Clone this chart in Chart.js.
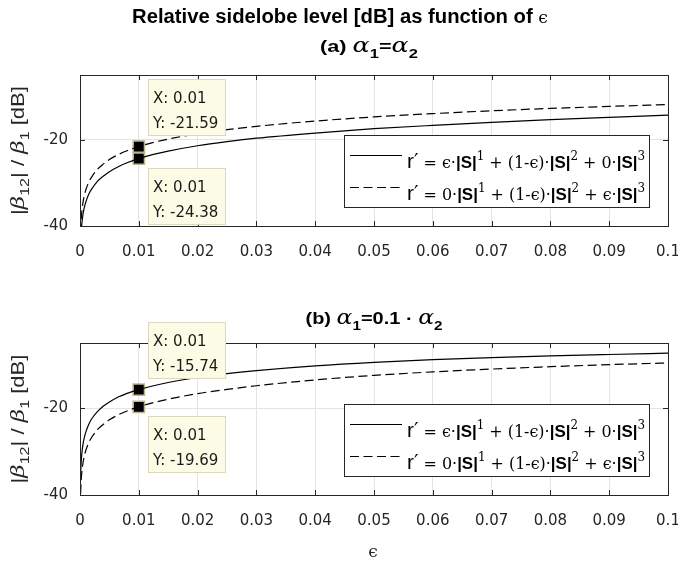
<!DOCTYPE html>
<html><head><meta charset="utf-8">
<script src="https://cdn.jsdelivr.net/npm/chart.js@4/dist/chart.umd.min.js"></script>
<style>
html,body{margin:0;padding:0;background:#fff;}
#wrap{position:relative;width:678px;height:566px;overflow:hidden;}
canvas{position:absolute;left:0;top:0;}
</style></head><body>
<div id="wrap"><canvas id="ca" width="678" height="566"></canvas><canvas id="cb" width="678" height="566"></canvas></div>
<script>
// ---------- data ----------
const xTicks = [0, 0.01, 0.02, 0.03, 0.04, 0.05, 0.06, 0.07, 0.08, 0.09, 0.1];
const xTickLabels = ['0', '0.01', '0.02', '0.03', '0.04', '0.05', '0.06', '0.07', '0.08', '0.09', '0.1'];
const yTicks = [-40, -20];
const yTickLabels = ['-40', '-20'];

const eps = [0.0001, 0.0002, 0.0003, 0.0005, 0.0007, 0.001, 0.0015, 0.002, 0.003, 0.004, 0.005, 0.0065, 0.008,
             0.01, 0.0125, 0.015, 0.02, 0.025, 0.03, 0.04, 0.05, 0.06, 0.07, 0.08, 0.09, 0.1];

// (a) alpha1 = alpha2
const solidA  = [-44.4, -41.4, -39.6, -37.4, -35.9, -34.4, -32.6, -31.4, -29.6, -28.4, -27.4, -26.25, -25.35,
                 -24.38, -23.4, -22.63, -21.4, -20.45, -19.65, -18.45, -17.45, -16.68, -16.0, -15.35, -14.8, -14.3];
const dashedA = [-41.6, -38.6, -36.8, -34.6, -33.1, -31.6, -29.8, -28.6, -26.8, -25.6, -24.6, -23.45, -22.55,
                 -21.59, -20.63, -19.85, -18.62, -17.67, -16.9, -15.68, -14.72, -13.95, -13.3, -12.75, -12.28, -11.85];
// (b) alpha1 = 0.1 * alpha2
const solidB  = [-35.4, -32.4, -30.6, -28.4, -26.95, -25.45, -23.7, -22.45, -20.75, -19.5, -18.6, -17.45, -16.6,
                 -15.74, -14.85, -14.1, -12.95, -12.05, -11.35, -10.25, -9.45, -8.85, -8.38, -7.98, -7.65, -7.35];
const dashedB = [-39.7, -36.7, -34.9, -32.7, -31.2, -29.7, -27.9, -26.7, -24.9, -23.7, -22.7, -21.55, -20.65,
                 -19.69, -18.73, -17.95, -16.65, -15.7, -14.85, -13.5, -12.45, -11.65, -11.0, -10.45, -9.98, -9.6];

const tipXA = [0.01, 0.01];
const tipYA = [-21.59, -24.38];
const tipXB = [0.01, 0.01];
const tipYB = [-15.74, -19.69];

const legendLabels = ['r′ = ϵ·|S|^1 + (1-ϵ)·|S|^2 + 0·|S|^3',
                      'r′ = 0·|S|^1 + (1-ϵ)·|S|^2 + ϵ·|S|^3'];

// ---------- helpers ----------
function runsWidth(ctx, runs) {
  let w = 0;
  for (const r of runs) { ctx.font = r.f; w += ctx.measureText(r.t).width; }
  return w;
}
function drawRuns(ctx, runs, x, y, opt) {
  opt = opt || {};
  const w = runsWidth(ctx, runs);
  const sx = opt.fit ? opt.fit / w : 1;
  const total = w * sx;
  const start = opt.align === 'center' ? x - total / 2 : (opt.align === 'right' ? x - total : x);
  ctx.save();
  ctx.translate(start, y);
  ctx.scale(sx, 1);
  ctx.textBaseline = 'alphabetic';
  ctx.textAlign = 'left';
  let cx = 0;
  for (const r of runs) {
    ctx.font = r.f;
    ctx.fillStyle = r.c || opt.color || '#000';
    ctx.fillText(r.t, cx, r.dy || 0);
    cx += ctx.measureText(r.t).width;
  }
  ctx.restore();
}
const SERIF = '"DejaVu Serif", "Liberation Serif", serif';
const SANS = '"Liberation Sans", Arial, sans-serif';
function legendRuns(label) {
  const parts = label.split(/(r′|\|S\||\^\d)/).filter(p => p.length);
  const runs = [];
  for (const p of parts) {
    if (p === 'r′') { runs.push({t: 'r', f: '21px ' + SANS}); runs.push({t: '′', f: '20px "DejaVu Sans", sans-serif', dy: -1}); }
    else if (p === '|S|') runs.push({t: '|S|', f: 'bold 17px ' + SANS});
    else if (p[0] === '^') runs.push({t: p.slice(1), f: '12px ' + SERIF, dy: -8});
    else runs.push({t: p, f: '16px ' + SERIF});
  }
  return runs;
}
function yLabelRuns() {
  const f = '18px ' + SANS, g = 'italic 19px ' + SERIF, s = '13px ' + SANS;
  return [{t: '|', f: f}, {t: 'β', f: g}, {t: '12', f: s, dy: 5}, {t: '| / ', f: f},
          {t: 'β', f: g}, {t: '1', f: s, dy: 5}, {t: ' [dB]', f: f}];
}

const decoPlugin = {
  id: 'deco',
  afterDatasetsDraw(chart, args, o) {
    const ctx = chart.ctx, a = chart.chartArea, xs = chart.scales.x, ys = chart.scales.y;
    ctx.save();
    // inward tick marks and box
    ctx.strokeStyle = '#262626';
    ctx.lineWidth = 1;
    ctx.setLineDash([]);
    ctx.beginPath();
    xs.ticks.forEach(t => {
      const p = Math.round(xs.getPixelForValue(t.value)) + 0.5;
      ctx.moveTo(p, a.bottom); ctx.lineTo(p, a.bottom - 5);
      ctx.moveTo(p, a.top); ctx.lineTo(p, a.top + 5);
    });
    ys.ticks.forEach(t => {
      const p = Math.round(ys.getPixelForValue(t.value)) + 0.5;
      ctx.moveTo(a.left, p); ctx.lineTo(a.left + 5, p);
      ctx.moveTo(a.right, p); ctx.lineTo(a.right - 5, p);
    });
    ctx.stroke();
    ctx.strokeRect(Math.round(a.left) + 0.5, Math.round(a.top) + 0.5,
                   Math.round(a.right - a.left), Math.round(a.bottom - a.top));
    // legend
    const lw = 305, lh = 72;
    const x1 = Math.round(a.right - 19 - lw), y1 = Math.round(a.bottom - 19 - lh);
    ctx.fillStyle = '#fff';
    ctx.fillRect(x1, y1, lw, lh);
    ctx.strokeStyle = '#262626';
    ctx.strokeRect(x1 + 0.5, y1 + 0.5, lw, lh);
    const rows = [{dash: [], ly: y1 + 20, by: y1 + 33}, {dash: [9, 4.5], ly: y1 + 52, by: y1 + 65}];
    rows.forEach((r, i) => {
      ctx.beginPath();
      ctx.setLineDash(r.dash);
      ctx.strokeStyle = '#000';
      ctx.lineWidth = 1.2;
      ctx.moveTo(x1 + 6, r.ly + 0.5); ctx.lineTo(x1 + 58, r.ly + 0.5);
      ctx.stroke();
      ctx.setLineDash([]);
      drawRuns(ctx, legendRuns(legendLabels[i]), x1 + 63, r.by, {fit: 238, color: '#000'});
    });
    ctx.restore();
  },
  afterDraw(chart, args, o) {
    const ctx = chart.ctx, a = chart.chartArea, xs = chart.scales.x, ys = chart.scales.y;
    ctx.save();
    // data tips
    o.tips.forEach(tp => {
      const px = xs.getPixelForValue(tp.x), py = ys.getPixelForValue(tp.y);
      const bw = 78, bh = 57;
      const bx = Math.round(px + 9);
      const by = tp.side === 'above' ? Math.round(py - 11 - bh) : Math.round(py + 9);
      ctx.fillStyle = '#fcfce6';
      ctx.fillRect(bx, by, bw, bh);
      ctx.strokeStyle = '#dcd8bd';
      ctx.lineWidth = 1;
      ctx.strokeRect(bx + 0.5, by + 0.5, bw - 1, bh - 1);
      ctx.fillStyle = '#1a1a1a';
      ctx.font = '15px "DejaVu Sans", sans-serif';
      ctx.textBaseline = 'alphabetic';
      ctx.textAlign = 'left';
      ctx.fillText('X: ' + tp.x, bx + 5, by + 24);
      ctx.fillText('Y: ' + tp.y.toFixed(2), bx + 5, by + 49);
    });
    // titles
    if (o.mainTitle) {
      drawRuns(ctx, [{t: 'Relative sidelobe level [dB] as function of ', f: 'bold 20px ' + SANS},
                     {t: 'ϵ', f: '17px ' + SERIF}], 340, 23, {align: 'center', fit: 416});
    }
    drawRuns(ctx, o.subRuns, o.subX, o.subY, {align: 'center', fit: o.subFit});
    // y label
    ctx.save();
    ctx.translate(24, (a.top + a.bottom) / 2);
    ctx.rotate(-Math.PI / 2);
    drawRuns(ctx, yLabelRuns(), 0, 0, {align: 'center', fit: 129, color: '#262626'});
    ctx.restore();
    if (o.xLabel) {
      drawRuns(ctx, [{t: 'ϵ', f: '17px ' + SERIF}], 373, 557, {align: 'center', color: '#262626'});
    }
    ctx.restore();
  }
};

function subRuns(kind) {
  const b = 'bold 17px ' + SANS, al = 'italic 20px ' + SERIF, sb = 'bold 13px ' + SANS;
  if (kind === 'a') return [{t: '(a) ', f: b}, {t: 'α', f: al}, {t: '1', f: sb, dy: 6}, {t: '=', f: b},
                            {t: 'α', f: al}, {t: '2', f: sb, dy: 6}];
  return [{t: '(b) ', f: b}, {t: 'α', f: al}, {t: '1', f: sb, dy: 6}, {t: '=0.1 · ', f: b},
          {t: 'α', f: al}, {t: '2', f: sb, dy: 6}];
}

function makeChart(id, cfg) {
  const tickFont = {family: '"DejaVu Sans", sans-serif', size: 15};
  return new Chart(document.getElementById(id), {
    type: 'line',
    data: {
      datasets: [
        {data: eps.map((x, i) => ({x: x, y: cfg.solid[i]})), borderColor: '#000', borderWidth: 1.2,
         pointRadius: 0, fill: false, cubicInterpolationMode: 'monotone'},
        {data: eps.map((x, i) => ({x: x, y: cfg.dashed[i]})), borderColor: '#000', borderWidth: 1.2,
         borderDash: [9, 4.5], pointRadius: 0, fill: false, cubicInterpolationMode: 'monotone'},
        {data: cfg.tipX.map((x, i) => ({x: x, y: cfg.tipY[i]})), showLine: false, pointStyle: 'rect',
         pointRadius: 8, backgroundColor: '#000', borderColor: '#bdb78f', borderWidth: 1.5}
      ]
    },
    options: {
      responsive: false, animation: false, devicePixelRatio: 1,
      layout: {padding: {left: 0, right: 10, top: cfg.top, bottom: 0}},
      plugins: {
        legend: {display: false}, tooltip: {enabled: false}, title: {display: false},
        deco: {tips: cfg.tipX.map((x, i) => ({x: x, y: cfg.tipY[i], side: i === 0 ? 'above' : 'below'})),
               mainTitle: cfg.mainTitle, xLabel: cfg.xLabel,
               subRuns: subRuns(cfg.sub), subX: cfg.subX, subY: cfg.subY, subFit: cfg.subFit}
      },
      scales: {
        x: {
          type: 'linear', min: 0, max: 0.1,
          afterBuildTicks: s => { s.ticks = xTicks.map(v => ({value: v})); },
          afterFit: s => { s.height = cfg.xh; s.paddingLeft = 0; s.paddingRight = 0; },
          ticks: {callback: (v, i) => xTickLabels[i], font: tickFont, color: '#262626', padding: 17,
                  maxRotation: 0, autoSkip: false},
          grid: {color: '#e4e4e4', drawTicks: false, lineWidth: 1},
          border: {display: false}
        },
        y: {
          min: -40, max: -5,
          afterBuildTicks: s => { s.ticks = yTicks.map(v => ({value: v})); },
          afterFit: s => { s.width = 80; s.paddingTop = 0; s.paddingBottom = 0; },
          ticks: {callback: (v, i) => yTickLabels[i], font: tickFont, color: '#262626', padding: 12},
          grid: {color: '#e4e4e4', drawTicks: false, lineWidth: 1},
          border: {display: false}
        }
      }
    },
    plugins: [decoPlugin]
  });
}

makeChart('ca', {solid: solidA, dashed: dashedA, tipX: tipXA, tipY: tipYA, top: 75, xh: 340,
                 mainTitle: true, xLabel: false, sub: 'a', subX: 369, subY: 52, subFit: 98});
makeChart('cb', {solid: solidB, dashed: dashedB, tipX: tipXB, tipY: tipYB, top: 343, xh: 71,
                 mainTitle: false, xLabel: true, sub: 'b', subX: 374, subY: 324, subFit: 137});
</script>
</body></html>
